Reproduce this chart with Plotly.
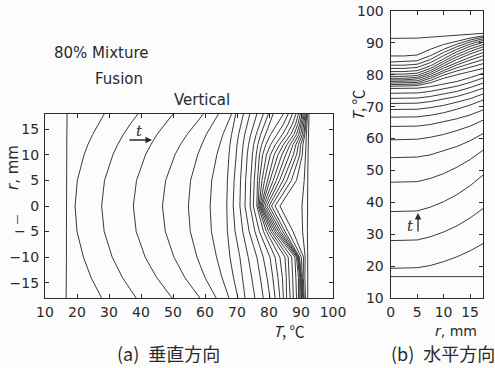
import plotly.graph_objects as go

# ---------------- data ----------------
# (a) vertical direction: temperature T (deg C) at each height r (mm), one row per time step
r_vertical = [18, 16, 14, 12, 10, 5, 0, -5, -10, -14, -18]
T_vertical = [
    [16.9, 16.8, 16.8, 16.8, 16.8, 16.7, 16.7, 16.7, 16.7, 16.6, 16.6],
    [28.5, 26.6, 24.9, 23.4, 22.2, 20.1, 19.4, 20.0, 22.0, 24.4, 27.7],
    [39.0, 36.6, 34.5, 32.7, 31.2, 28.6, 27.7, 28.5, 31.0, 34.2, 38.5],
    [50.0, 47.4, 45.0, 43.1, 41.4, 38.6, 37.6, 38.5, 41.3, 44.9, 49.7],
    [59.5, 56.8, 54.4, 52.3, 50.6, 47.7, 46.7, 47.6, 50.3, 53.7, 58.4],
    [64.2, 62.2, 60.4, 59.0, 57.7, 55.5, 54.8, 55.4, 57.5, 60.0, 63.5],
    [68.3, 66.9, 65.6, 64.6, 63.7, 62.1, 61.6, 62.0, 63.6, 65.3, 67.5],
    [69.6, 68.9, 68.3, 67.8, 67.5, 67.0, 66.8, 67.0, 67.8, 68.9, 70.3],
    [72.0, 71.2, 70.5, 70.0, 69.7, 69.1, 68.8, 69.4, 70.9, 71.8, 72.5],
    [74.0, 73.1, 72.4, 71.9, 71.6, 71.1, 70.9, 71.8, 73.5, 74.6, 75.6],
    [76.2, 75.2, 74.3, 73.6, 73.2, 72.7, 72.5, 73.8, 76.2, 77.3, 78.2],
    [78.2, 77.1, 76.0, 75.2, 74.8, 74.3, 74.1, 75.6, 78.2, 79.4, 80.3],
    [79.8, 78.6, 77.4, 76.5, 76.0, 75.4, 75.1, 77.0, 80.3, 81.2, 81.9],
    [81.3, 80.1, 78.8, 77.7, 77.0, 76.4, 76.2, 78.3, 81.9, 82.8, 83.4],
    [84.5, 82.5, 80.5, 79.0, 78.0, 77.0, 76.6, 79.2, 83.4, 84.2, 84.5],
    [86.0, 84.5, 82.5, 80.5, 79.2, 77.8, 76.9, 79.9, 85.0, 85.4, 85.5],
    [87.3, 86.0, 84.2, 82.0, 80.4, 78.6, 77.2, 80.6, 86.0, 86.3, 86.6],
    [88.4, 87.3, 85.6, 83.3, 81.6, 79.5, 77.5, 81.2, 87.1, 87.4, 87.6],
    [89.2, 88.3, 86.8, 84.5, 82.8, 80.4, 77.8, 81.8, 88.1, 88.4, 88.6],
    [89.8, 89.0, 87.8, 85.6, 84.0, 81.3, 78.2, 82.4, 88.6, 89.2, 89.2],
    [90.3, 89.6, 88.6, 86.6, 85.2, 82.3, 78.7, 83.0, 88.9, 89.6, 89.6],
    [90.7, 90.1, 89.3, 87.5, 86.4, 83.3, 79.3, 83.6, 89.1, 89.8, 90.0],
    [91.0, 90.5, 89.9, 88.4, 87.6, 84.4, 80.0, 84.3, 89.3, 90.0, 90.3],
    [91.3, 90.9, 90.4, 89.2, 88.6, 85.6, 80.8, 85.0, 89.5, 90.2, 90.6],
    [91.6, 91.2, 90.9, 89.9, 89.6, 87.0, 81.9, 86.0, 90.1, 90.4, 90.8],
    [91.8, 91.5, 91.2, 90.6, 90.4, 88.6, 83.4, 87.5, 90.8, 90.7, 91.0],
    [92.0, 91.9, 91.7, 91.5, 91.4, 91.0, 90.3, 90.5, 91.3, 91.2, 91.4],
    [92.5, 92.4, 92.3, 92.2, 92.2, 92.1, 92.0, 92.0, 92.1, 92.0, 92.1],
]

# (b) horizontal direction: temperature T (deg C) at each radius r (mm), one row per time step
r_horizontal = [0, 2.5, 5, 7.5, 10, 12.5, 15, 17.5]
T_horizontal = [
    [16.7, 16.7, 16.7, 16.7, 16.7, 16.7, 16.7, 16.7],
    [19.3, 19.3, 19.5, 20.2, 21.4, 22.9, 24.8, 27.1],
    [28.0, 28.0, 28.2, 29.2, 30.7, 32.6, 35.1, 38.1],
    [37.1, 37.1, 37.3, 38.5, 40.2, 42.4, 45.2, 48.6],
    [46.3, 46.3, 46.5, 47.5, 49.0, 51.0, 53.4, 56.4],
    [54.0, 54.0, 54.2, 54.9, 56.1, 57.5, 59.3, 61.6],
    [59.6, 59.6, 59.8, 60.4, 61.3, 62.5, 63.9, 65.8],
    [63.8, 63.8, 63.9, 64.4, 65.2, 66.2, 67.4, 69.0],
    [66.7, 66.7, 66.8, 67.3, 68.1, 69.2, 70.5, 72.1],
    [69.1, 69.1, 69.2, 69.7, 70.4, 71.4, 72.5, 74.0],
    [71.0, 71.0, 71.1, 71.6, 72.3, 73.2, 74.4, 75.8],
    [72.6, 72.6, 72.7, 73.2, 73.9, 74.8, 76.0, 77.4],
    [74.2, 74.2, 74.3, 74.8, 75.5, 76.4, 77.6, 79.0],
    [75.7, 75.7, 75.8, 76.3, 77.0, 77.9, 79.1, 80.5],
    [76.4, 76.4, 76.6, 77.5, 78.9, 80.0, 81.0, 82.0],
    [76.9, 76.9, 77.1, 78.2, 79.9, 81.2, 82.4, 83.5],
    [77.4, 77.4, 77.6, 78.9, 80.7, 82.2, 83.5, 84.8],
    [77.9, 77.9, 78.1, 79.5, 81.4, 83.1, 84.6, 86.0],
    [78.4, 78.4, 78.7, 80.1, 82.1, 83.9, 85.5, 87.0],
    [78.9, 78.9, 79.2, 80.7, 82.8, 84.8, 86.5, 88.0],
    [79.5, 79.5, 79.8, 81.3, 83.5, 85.6, 87.3, 88.8],
    [80.2, 80.2, 80.5, 82.0, 84.2, 86.4, 88.1, 89.5],
    [81.0, 81.0, 81.3, 82.8, 85.0, 87.2, 88.9, 90.2],
    [82.0, 82.0, 82.3, 83.8, 86.0, 88.0, 89.6, 90.8],
    [83.0, 83.0, 83.3, 84.8, 87.0, 88.8, 90.3, 91.3],
    [84.0, 84.1, 84.4, 86.0, 88.0, 89.6, 90.9, 91.8],
    [85.9, 85.9, 86.2, 88.0, 89.5, 90.6, 91.5, 92.2],
    [91.4, 91.4, 91.5, 91.8, 92.1, 92.4, 92.7, 93.0],
]

vert_ticks = [-15, -10, -5, 0, 5, 10, 15]
vert_ticktext = ["\u221215", "\u221210", "\u2212 5", "0", "5", "10", "15"]
temp_ticks = [10, 20, 30, 40, 50, 60, 70, 80, 90, 100]
horiz_ticks = [0, 5, 10, 15]

# ---------------- figure ----------------
W, H = 495, 368
LINE = "#3a3a3a"
INK = "#2a2a2a"
TICK_FONT = dict(family="DejaVu Sans, sans-serif", size=14, color=INK)
TEXT_FONT = dict(family="DejaVu Sans, sans-serif", size=15, color=INK)
CJK_FONT = dict(family="Noto Sans CJK JP, sans-serif", size=18, color=INK)
UNIT_FONT = dict(family="Noto Sans CJK JP, sans-serif", size=15, color=INK)

def px_x(p):
    return p / W

def px_y(p):
    return 1 - p / H

fig = go.Figure()

for row in T_vertical:
    fig.add_trace(go.Scatter(x=row, y=r_vertical, mode="lines",
                             line=dict(color=LINE, width=1),
                             xaxis="x", yaxis="y", showlegend=False, hoverinfo="skip"))

for row in T_horizontal:
    fig.add_trace(go.Scatter(x=r_horizontal, y=row, mode="lines",
                             line=dict(color=LINE, width=1),
                             xaxis="x2", yaxis="y2", showlegend=False, hoverinfo="skip"))

axis_common = dict(showline=True, linecolor=INK, linewidth=1.3, mirror="ticks",
                   ticks="inside", ticklen=4, tickcolor=INK, showgrid=False,
                   zeroline=False, tickfont=TICK_FONT, fixedrange=True, automargin=False)

fig.update_layout(
    width=W, height=H,
    margin=dict(l=0, r=0, t=0, b=0),
    paper_bgcolor="#fcfcfc", plot_bgcolor="#fcfcfc",
    xaxis=dict(domain=[px_x(45), px_x(333)], range=[10, 100], tickvals=temp_ticks,
               anchor="y", ticklabelstandoff=1, **axis_common),
    yaxis=dict(domain=[px_y(298), px_y(114)], range=[-18, 18], tickvals=vert_ticks,
               ticktext=vert_ticktext, anchor="x", ticklabelstandoff=2, **axis_common),
    xaxis2=dict(domain=[px_x(390.7), px_x(483.3)], range=[0, 17.5], tickvals=horiz_ticks,
                anchor="y2", ticklabelstandoff=1, **axis_common),
    yaxis2=dict(domain=[px_y(298), px_y(11)], range=[10, 100], tickvals=temp_ticks,
                anchor="x2", ticklabelstandoff=3, **axis_common),
)

def label(text, x, y, font=TEXT_FONT, angle=0, xanchor="center"):
    fig.add_annotation(text=text, x=px_x(x), y=px_y(y), xref="paper", yref="paper",
                       showarrow=False, font=font, textangle=angle,
                       xanchor=xanchor, yanchor="middle")

label("80% Mixture", 52, 53, xanchor="left")
label("Fusion", 93, 79, xanchor="left")
label("Vertical", 172, 100, xanchor="left")
label("<i>r</i>, mm", 13, 168, angle=-90)
label("|", 17, 219, font=dict(family="DejaVu Sans, sans-serif", size=9, color=INK))
label("<i>T</i>, \u2103", 289, 330, font=UNIT_FONT)
label("<i>T</i>, \u2103", 357, 105, font=UNIT_FONT, angle=-90)
label("<i>r</i>, mm", 456, 331, font=dict(family="DejaVu Sans, sans-serif", size=14, color=INK))
label("(a)\u2002垂直方向", 168, 353, font=CJK_FONT)
label("(b)\u2002水平方向", 443, 353, font=CJK_FONT)

# time arrows (tail offset given in pixels from the head)
fig.add_annotation(x=px_x(152), y=px_y(140), ax=-24, ay=0,
                   xref="paper", yref="paper", axref="pixel", ayref="pixel",
                   showarrow=True, arrowhead=2, arrowsize=1, arrowwidth=1.3,
                   arrowcolor=INK, text="")
label("<i>t</i>", 139, 131, font=dict(family="DejaVu Serif, serif", size=15, color=INK))
fig.add_annotation(x=px_x(418), y=px_y(213), ax=0, ay=20,
                   xref="paper", yref="paper", axref="pixel", ayref="pixel",
                   showarrow=True, arrowhead=2, arrowsize=1, arrowwidth=1.3,
                   arrowcolor=INK, text="")
label("<i>t</i>", 410, 226, font=dict(family="DejaVu Serif, serif", size=15, color=INK))

fig.write_html("out.html")
